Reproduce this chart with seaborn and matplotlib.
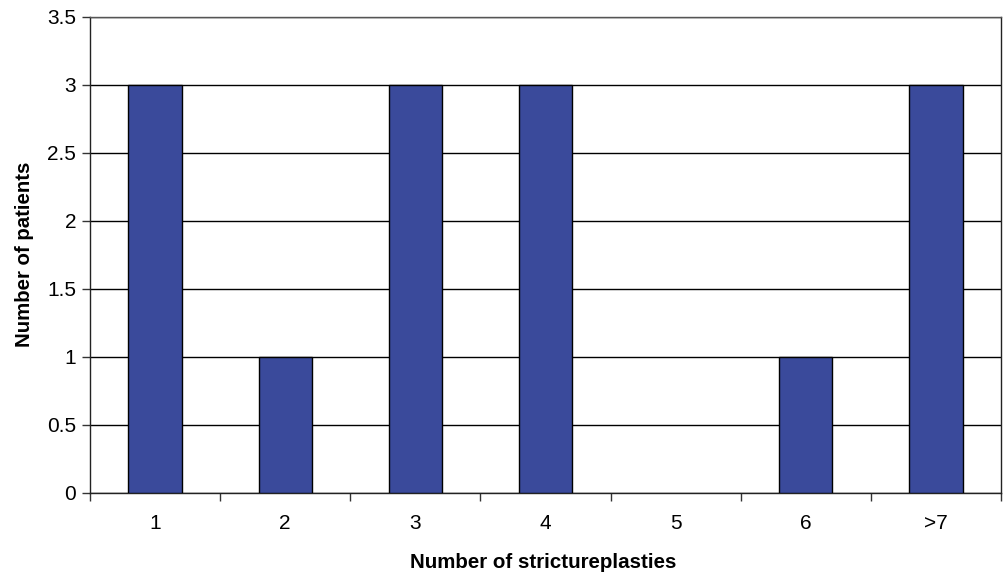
import matplotlib
matplotlib.use("Agg")
import matplotlib.pyplot as plt
import seaborn as sns
import numpy as np
import pandas as pd

categories = ["1", "2", "3", "4", "5", "6", ">7"]
patients = [3, 1, 3, 3, 0, 1, 3]
yticks = [0, 0.5, 1, 1.5, 2, 2.5, 3, 3.5]
ytick_labels = ["0", "0.5", "1", "1.5", "2", "2.5", "3", "3.5"]

sns.set_style("white")
plt.rcParams['font.family'] = ['Liberation Sans', 'DejaVu Sans']
plt.rcParams['text.color'] = 'black'
plt.rcParams['axes.labelcolor'] = 'black'
plt.rcParams['xtick.color'] = 'black'
plt.rcParams['ytick.color'] = 'black'

df = pd.DataFrame({"cat": categories, "val": patients})

fig = plt.figure(figsize=(10.04, 5.73), dpi=100)
ax = fig.add_axes([90/1004, 1 - 493/573, (1001-90)/1004, (493-17)/573])

sns.barplot(data=df, x="cat", y="val", order=categories, color="#3A4A9B",
            saturation=1, width=0.41, edgecolor="black", linewidth=1.0, ax=ax, zorder=3)
for p in ax.patches:
    if p.get_height() == 0:
        p.set_linewidth(0)

ax.set_ylim(0, 3.5)
ax.set_xlim(-0.5, 6.5)
ax.set_yticks(yticks)
ax.set_yticklabels(ytick_labels)
ax.yaxis.grid(True, color="black", linewidth=1.0, zorder=0)
ax.set_axisbelow(True)

ax.set_xticks(np.arange(-0.5, 7, 1), minor=True)
ax.tick_params(axis="x", which="major", length=0, pad=15, labelsize=15, labelcolor="black")
ax.tick_params(axis="x", which="minor", length=6, width=1, color="#333333", direction="out", bottom=True)
ax.tick_params(axis="y", length=6, width=1, color="#333333", direction="out", left=True, labelsize=15, pad=4, labelcolor="black")

for s in ["left", "bottom", "right", "top"]:
    ax.spines[s].set_visible(True)
    ax.spines[s].set_color("#222222")
    ax.spines[s].set_linewidth(1.0)
ax.spines["top"].set_color("#555555")

ax.set_xlabel("Number of strictureplasties", fontsize=14.8, fontweight="bold", color="black")
ax.set_ylabel("Number of patients", fontsize=14.7, fontweight="bold", color="black")
ax.xaxis.set_label_coords((543 - 90) / (1001 - 90), -(562 - 493) / (493 - 17), transform=ax.transAxes)
ax.yaxis.set_label_coords(-(90 - 24) / (1001 - 90), (493 - 254) / (493 - 17), transform=ax.transAxes)
ax.xaxis.label.set_va("center")
ax.yaxis.label.set_va("center")

fig.savefig("out.png", dpi=100)
